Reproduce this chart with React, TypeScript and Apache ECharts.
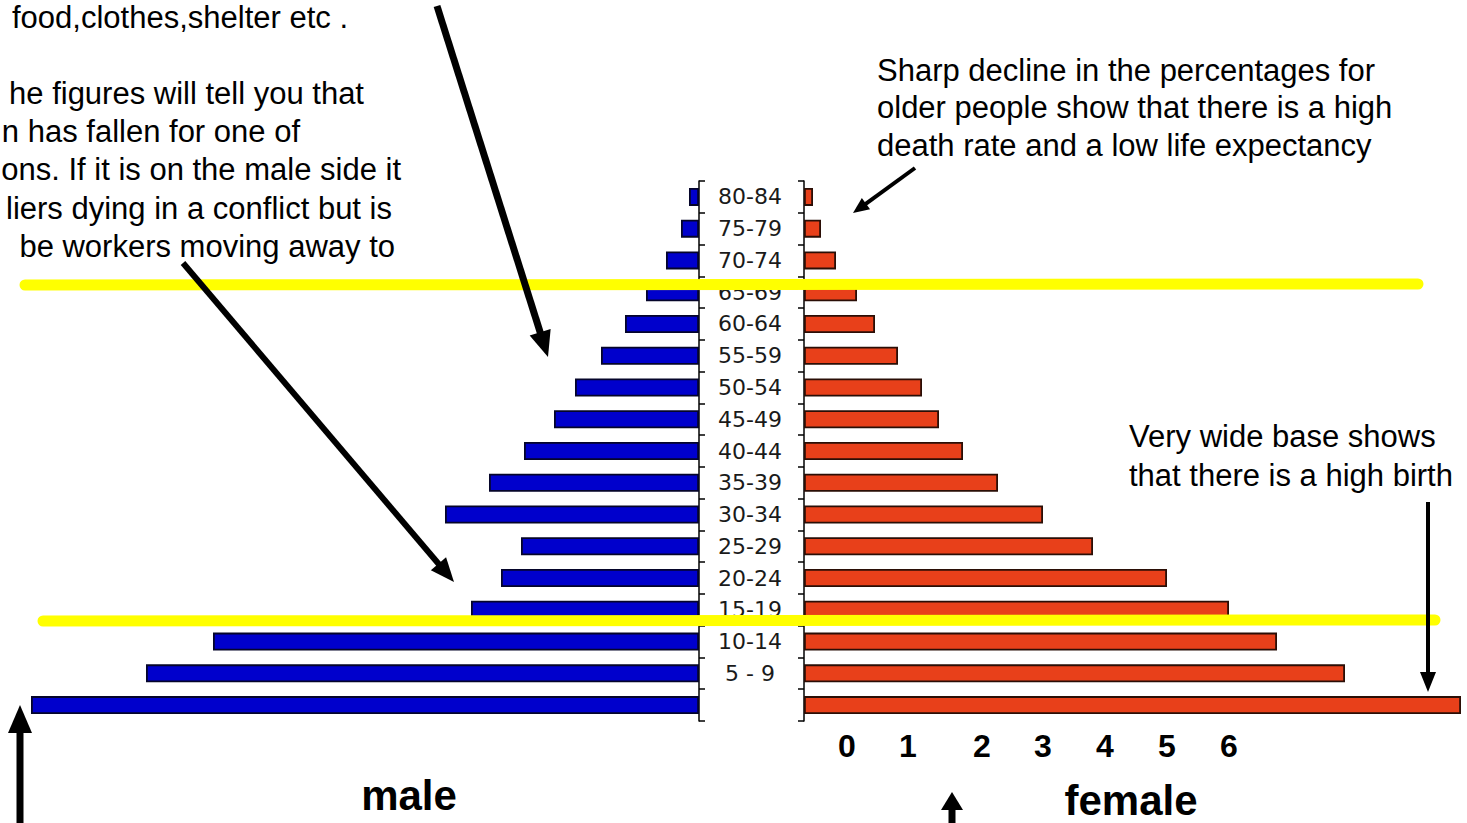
import React, { useEffect, useRef } from "react";
import * as echarts from "echarts";

const ageGroups = [
  "0-4", "5 - 9", "10-14", "15-19", "20-24", "25-29", "30-34", "35-39", "40-44",
  "45-49", "50-54", "55-59", "60-64", "65-69", "70-74", "75-79", "80-84",
];
const maleValues = [6.68, 5.53, 4.86, 2.28, 1.98, 1.78, 2.54, 2.1, 1.75, 1.45, 1.24, 0.98, 0.74, 0.53, 0.33, 0.18, 0.1];
const femaleValues = [6.57, 5.41, 4.73, 4.25, 3.63, 2.89, 2.39, 1.94, 1.59, 1.35, 1.18, 0.94, 0.71, 0.53, 0.32, 0.17, 0.09];
const scaleLabels = ["0", "1", "2", "3", "4", "5", "6"];
const scaleLabelX = [847, 908, 982, 1043, 1105, 1167, 1229];

const leftNote = [
  { t: "he figures will tell you that", x: 364, y: 93 },
  { t: "n has fallen for one of", x: 300, y: 131 },
  { t: "ons. If it is on the male side it", x: 401, y: 169 },
  { t: "liers dying in a conflict but is", x: 392, y: 208 },
  { t: "be workers moving away to", x: 395, y: 246 },
];
const rightNote = [
  "Sharp decline in the percentages for",
  "older people show that there is a high",
  "death rate and a low life expectancy",
];
const baseNote = ["Very wide base shows", "that there is a high birth"];

const FONT = "'Liberation Sans', Arial, sans-serif";

function arrow(x1: number, y1: number, x2: number, y2: number, lw: number, hl: number, hw: number) {
  const dx = x2 - x1, dy = y2 - y1;
  const L = Math.hypot(dx, dy);
  const ux = dx / L, uy = dy / L;
  const bx = x2 - ux * hl, by = y2 - uy * hl;
  const px = -uy, py = ux;
  return [
    { type: "line", z: 100, shape: { x1, y1, x2: bx + ux * 2, y2: by + uy * 2 }, style: { stroke: "#000", lineWidth: lw } },
    {
      type: "polygon", z: 100,
      shape: { points: [[x2, y2], [bx + (px * hw) / 2, by + (py * hw) / 2], [bx - (px * hw) / 2, by - (py * hw) / 2]] },
      style: { fill: "#000" },
    },
  ];
}

function txt(text: string, x: number, y: number, size: number, align: string, bold = false) {
  return {
    type: "text", z: 100, x, y,
    style: { text, fontSize: size, fontFamily: FONT, fontWeight: bold ? "bold" : "normal", fill: "#000", align, verticalAlign: "middle" },
  };
}

export default function App() {
  const ref = useRef<HTMLDivElement>(null);
  useEffect(() => {
    if (!ref.current) return;
    const chart = echarts.init(ref.current, undefined, { renderer: "svg" });
    const graphics: any[] = [];
    // yellow highlight lines
    graphics.push({ type: "line", z: 90, shape: { x1: 25, y1: 285, x2: 1418, y2: 284 }, style: { stroke: "#ffff00", lineWidth: 11, lineCap: "round" } });
    graphics.push({ type: "line", z: 90, shape: { x1: 43, y1: 621, x2: 1435, y2: 620 }, style: { stroke: "#ffff00", lineWidth: 11, lineCap: "round" } });
    // arrows
    graphics.push(...arrow(437, 6, 548, 357, 7, 26, 22));
    graphics.push(...arrow(183, 263, 454, 582, 6, 24, 20));
    graphics.push(...arrow(915, 168, 853, 213, 4, 16, 14));
    graphics.push(...arrow(1428, 502, 1428, 692, 4, 20, 16));
    graphics.push(...arrow(20, 823, 20, 705, 7, 28, 24));
    graphics.push(...arrow(952, 823, 952, 792, 7, 18, 22));
    // texts
    graphics.push(txt("food,clothes,shelter etc .", 12, 17, 31, "left"));
    leftNote.forEach((l) => graphics.push(txt(l.t, l.x, l.y, 31, "right")));
    rightNote.forEach((t, i) => graphics.push(txt(t, 877, 70 + i * 37.5, 31, "left")));
    baseNote.forEach((t, i) => graphics.push(txt(t, 1129, 436 + i * 39, 31, "left")));
    scaleLabels.forEach((t, i) => graphics.push(txt(t, scaleLabelX[i], 746, 32, "center", true)));
    graphics.push(txt("male", 409, 795, 42, "center", true));
    graphics.push(txt("female", 1131, 800, 42, "center", true));

    const axisLineStyle = { color: "#000", width: 1.5 };
    chart.setOption({
      animation: false,
      backgroundColor: "#ffffff",
      grid: [
        { left: 29, width: 670, top: 181, height: 540 },
        { left: 804, width: 660, top: 181, height: 540 },
      ],
      xAxis: [
        { type: "value", gridIndex: 0, min: 0, max: 6.7, inverse: true, show: false },
        { type: "value", gridIndex: 1, min: 0, max: 6.6, show: false },
      ],
      yAxis: [
        {
          type: "category", gridIndex: 0, data: ageGroups, position: "right",
          axisLine: { show: true, lineStyle: axisLineStyle },
          axisTick: { show: true, length: 6, lineStyle: axisLineStyle },
          axisLabel: { show: false },
          splitLine: { show: false },
        },
        {
          type: "category", gridIndex: 1, data: ageGroups, position: "left",
          axisLine: { show: true, lineStyle: axisLineStyle },
          axisTick: { show: true, length: 6, lineStyle: axisLineStyle },
          axisLabel: {
            show: true, align: "center", margin: 54, fontSize: 22, color: "#1a1a1a",
            fontFamily: "'DejaVu Sans', sans-serif",
            formatter: (v: string) => (v === "0-4" ? "" : v),
          },
          splitLine: { show: false },
        },
      ],
      series: [
        {
          name: "male", type: "bar", xAxisIndex: 0, yAxisIndex: 0, data: maleValues, barWidth: 18,
          itemStyle: { color: "#0000cc", borderColor: "#05052a", borderWidth: 1.8 },
        },
        {
          name: "female", type: "bar", xAxisIndex: 1, yAxisIndex: 1, data: femaleValues, barWidth: 18,
          itemStyle: { color: "#e8401a", borderColor: "#2a0e06", borderWidth: 1.8 },
        },
      ],
      graphic: graphics,
    });
    return () => chart.dispose();
  }, []);
  return <div ref={ref} style={{ position: "fixed", left: 0, top: 0, width: 1467, height: 823 }} />;
}
